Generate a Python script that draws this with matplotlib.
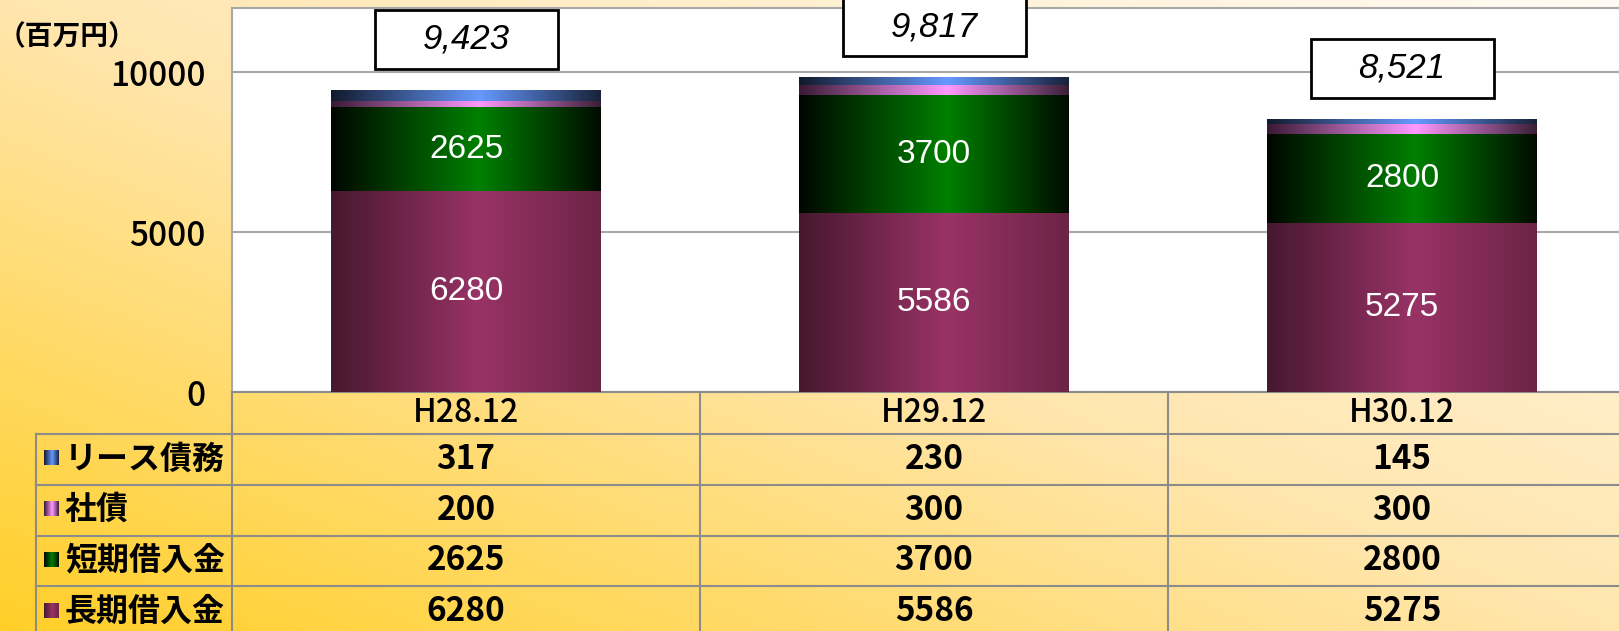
import numpy as np
import matplotlib
matplotlib.use('Agg')
import matplotlib.pyplot as plt
import matplotlib.transforms as mtransforms
from matplotlib.colors import LinearSegmentedColormap
from matplotlib.patches import Rectangle
from matplotlib.lines import Line2D

plt.rcParams['font.family'] = ['Liberation Sans', 'Noto Sans CJK JP', 'DejaVu Sans']
JP = ['Noto Sans CJK JP', 'DejaVu Sans']

# データ
categories = ['H28.12', 'H29.12', 'H30.12']
lease = [317, 230, 145]            # リース債務
bonds = [200, 300, 300]            # 社債
short_loans = [2625, 3700, 2800]   # 短期借入金
long_loans = [6280, 5586, 5275]    # 長期借入金
total_labels = ['9,423', '9,817', '8,521']
row_names = ['リース債務', '社債', '短期借入金', '長期借入金']
row_values = [lease, bonds, short_loans, long_loans]
yticks = [0, 5000, 10000]

# グラデーション (左端, 中央, 右端)
grad_maroon = [(0, '#47182F'), (0.55, '#993366'), (1, '#6C2446')]
grad_green = [(0, '#000600'), (0.55, '#008000'), (1, '#000C00')]
grad_pink = [(0, '#3A1A34'), (0.55, '#FF99FF'), (1, '#3A1E36')]
grad_blue = [(0, '#121A2C'), (0.55, '#6699FF'), (1, '#18223A')]
row_grads = [grad_blue, grad_pink, grad_green, grad_maroon]

W, H = 1619, 631
fig = plt.figure(figsize=(W / 100, H / 100), dpi=100)


def make_grad(stops, n=256):
    cm = LinearSegmentedColormap.from_list('g', stops)
    return cm(np.linspace(0, 1, n))[np.newaxis, :, :]


def fy(p):
    return 1 - p / H


# 背景
bg = fig.add_axes([0, 0, 1, 1], zorder=-10)
gx, gy = np.meshgrid(np.linspace(0, 1, 400), np.linspace(0, 1, 200))
t = (gx + (1 - gy)) / 2
bgcm = LinearSegmentedColormap.from_list('bg', ['#FFCF28', '#FFE6AE', '#FFFAF3'])
bg.imshow(bgcm(t), aspect='auto', extent=(0, 1, 0, 1))
bg.axis('off')

# グラフ
ax = fig.add_axes([232 / W, (H - 392) / H, (1636 - 232) / W, (392 - 8) / H])
ax.set_facecolor('white')
x = np.arange(len(categories))
bottoms = np.zeros(len(categories))
stack = [(long_loans, grad_maroon), (short_loans, grad_green), (bonds, grad_pink), (lease, grad_blue)]
for vals, g in stack:
    bars = ax.bar(x, vals, width=0.575, bottom=bottoms, color=g[1][1], linewidth=0, zorder=2)
    img = make_grad(g)
    for r in bars:
        x0, y0 = r.get_x(), r.get_y()
        ax.imshow(img, extent=(x0, x0 + r.get_width(), y0, y0 + r.get_height()),
                  aspect='auto', interpolation='bilinear', zorder=3)
    if vals is long_loans or vals is short_loans:
        for i, v in enumerate(vals):
            ax.text(x[i], bottoms[i] + v / 2, str(v), ha='center', va='center',
                    color='white', fontsize=24, zorder=4)
    bottoms = bottoms + np.array(vals)

ax.set_xlim(-0.5, 2.5)
ax.set_ylim(0, 12000)
ax.set_xticks([])
ax.set_yticks(yticks)
ax.yaxis.grid(True, color='#A8A8A8', lw=1.5)
ax.set_axisbelow(True)
ax.tick_params(axis='y', length=0, pad=19)
for lab in ax.get_yticklabels():
    lab.set_family(JP)
    lab.set_fontsize(24)
    lab.set_fontweight('medium')
for s in ['left', 'top']:
    ax.spines[s].set_color('#A8A8A8')
    ax.spines[s].set_linewidth(1.5)
ax.spines['right'].set_visible(False)
ax.spines['bottom'].set_color('#8C8C8C')
ax.spines['bottom'].set_linewidth(1.5)

# 合計ラベル
bw, bh = 183 / 468, 59 / 0.032
for i, lab in enumerate(total_labels):
    yc = bottoms[i] + 1600
    ax.add_patch(Rectangle((x[i] - bw / 2, yc - bh / 2), bw, bh, facecolor='white',
                           edgecolor='black', lw=2, clip_on=False, zorder=5))
    ax.text(x[i], yc, lab, ha='center', va='center', fontsize=25, style='italic',
            zorder=6, clip_on=False)

# 単位
fig.text(67 / W, fy(37), '（百万円）', ha='center', va='center', fontsize=20,
         fontweight='bold', family=JP)

# データテーブル
trans = mtransforms.blended_transform_factory(ax.transData, fig.transFigure)
line_kw = dict(color='#8C8C8C', lw=1.5)
row_edges = [434, 484.5, 535.5, 586, 637]
for i, c in enumerate(categories):
    fig.text(x[i], fy(413), c, transform=trans, ha='center', va='center',
             fontsize=23, fontweight='medium', family=JP)
for r, name in enumerate(row_names):
    cy = (row_edges[r] + row_edges[r + 1]) / 2
    fig.text(65 / W, fy(cy), name, ha='left', va='center', fontsize=23,
             fontweight='bold', family=JP)
    key = fig.add_axes([44 / W, fy(cy + 6), 14 / W, 15 / H])
    key.imshow(make_grad(row_grads[r]), aspect='auto')
    key.axis('off')
    for i, v in enumerate(row_values[r]):
        fig.text(x[i], fy(cy), str(v), transform=trans, ha='center', va='center',
                 fontsize=24, fontweight='bold', family=JP)
for e in row_edges[:-1]:
    fig.add_artist(Line2D([36 / W, 1], [fy(e), fy(e)], transform=fig.transFigure, **line_kw))
fig.add_artist(Line2D([36 / W, 36 / W], [fy(434), 0], transform=fig.transFigure, **line_kw))
for xv in [-0.5, 0.5, 1.5]:
    fig.add_artist(Line2D([xv, xv], [fy(392), 0], transform=trans, **line_kw))

fig.savefig('out.png', dpi=100)
